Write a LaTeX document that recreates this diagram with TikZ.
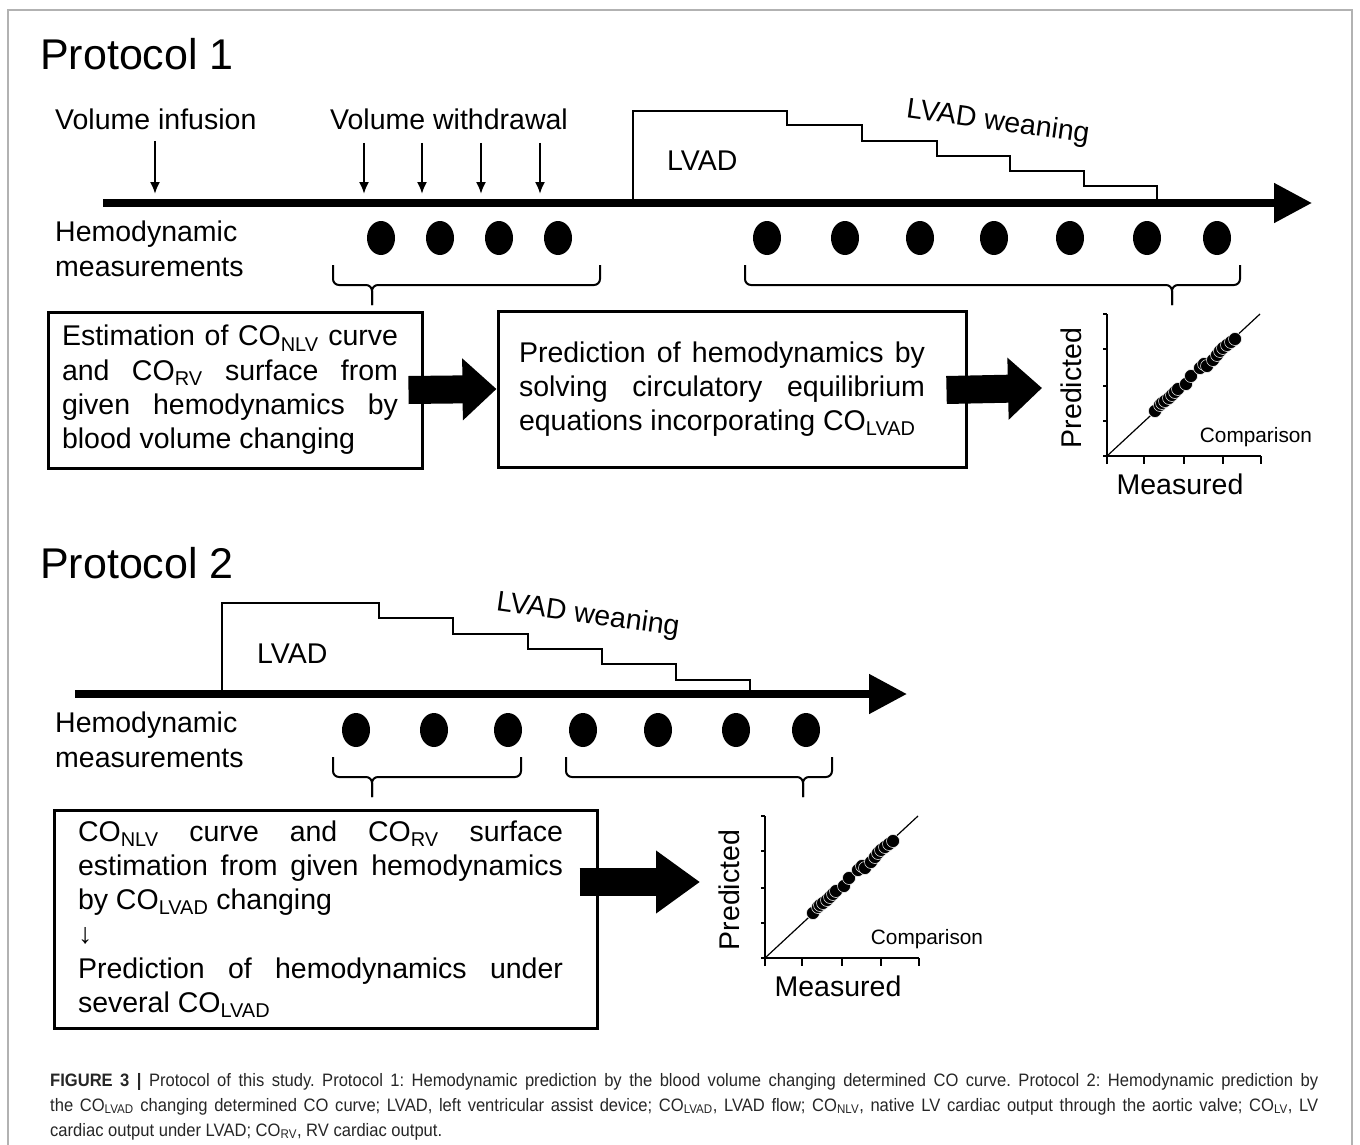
\documentclass[tikz,border=0pt]{standalone}
\usepackage{fontspec}
\setmainfont{Liberation Sans}
\newfontfamily\capfont[FakeStretch=0.92]{Liberation Sans}
\usetikzlibrary{arrows.meta}

\begin{document}
\begin{tikzpicture}[x=1pt,y=-1pt,
    txt/.style={inner sep=0pt,font=\fontsize{28.5}{34.5}\selectfont},
    title/.style={inner sep=0pt,anchor=base west,font=\fontsize{43}{50}\selectfont},
    box/.style={draw,line width=3pt,minimum height=156pt,inner ysep=0pt,font=\fontsize{28.5}{34.3}\selectfont},
    timeline/.style={line width=8pt,-{Triangle[length=38pt,width=38pt]}},
    pump/.style={line width=2.5pt},
    volarrow/.style={line width=2pt,-{Latex[length=12pt,width=10pt]}},
    bigarrow/.style={line width=28pt,-{Triangle[length=34pt,width=60pt]}},
    brace/.style={line width=2pt,rounded corners=6pt},
    axis/.style={line width=1.5pt},
    caption/.style={inner sep=0pt,anchor=base west,text=black!85,font=\capfont\fontsize{18}{25}\selectfont\frenchspacing}]
  \useasboundingbox (0,0) rectangle (1360,1145);
  \draw[gray!60,line width=1.5pt] (8,1145) -- (8,10) -- (1352,10) -- (1352,1145);

  % Protocol 1
  \node[title] (p1) at (40,70) {Protocol 1};
  \node[txt,anchor=base west] (infusion) at (55,130) {Volume infusion};
  \node[txt,anchor=base west] (withdrawal) at (330,130) {Volume withdrawal};
  \draw[volarrow] (155,141) -- (155,194);
  \foreach \x in {364,422,481,540}
    \draw[volarrow] (\x,143) -- (\x,194);
  \draw[timeline] (103,203) -- (1312,203);
  \draw[pump] (633,203) |- (787,111) |- (862,125) |- (937,141) |- (1010,156) |- (1084,171) |- (1157,186) -- (1157,203);
  \node[txt,anchor=base west] (lvad1) at (667,170) {LVAD};
  \node[txt,rotate=-8] (wean1) at (998,123) {LVAD weaning};
  \node[txt,anchor=base west,align=left] (hemo1) at (55,276) {Hemodynamic\\measurements};
  \foreach \x in {381,440,499,558,767,845,920,994,1070,1147,1217}
    \fill (\x,238) ellipse [x radius=14pt,y radius=17pt];

  % Protocol 2
  \node[title] (p2) at (40,578) {Protocol 2};
  \draw[timeline] (75,694) -- (907,694);
  \draw[pump] (222,694) |- (379,603) |- (453,618) |- (528,634) |- (602,649) |- (676,664) |- (750,680) -- (750,694);
  \node[txt,anchor=base west] (lvad2) at (257,663) {LVAD};
  \node[txt,rotate=-8] (wean2) at (588,616) {LVAD weaning};
  \node[txt,anchor=base west,align=left] (hemo2) at (55,767) {Hemodynamic\\measurements};
  \foreach \x in {356,434,508,583,658,736,806}
    \fill (\x,730) ellipse [x radius=14pt,y radius=17pt];

  % braces
  \foreach \l/\r/\t/\y in {333/600/372/265,745/1240/1172/265,333/521/372/757,566/832/803/757}{
    \draw[brace] (\l,\y) |- (\t,\y+20) -- (\t,\y+40);
    \draw[brace] (\r,\y) |- (\t,\y+20) -- (\t,\y+40);
  }

  % boxes
  \node[box,inner xsep=14pt] (est) at (235,390) {\parbox{336pt}{Estimation of CO\textsubscript{NLV} curve\linebreak and CO\textsubscript{RV} surface from\linebreak given hemodynamics by\linebreak blood volume changing}\rule{10pt}{0pt}};
  \node[box,inner xsep=21pt] (pred) at (732,389) {\parbox{406pt}{Prediction of hemodynamics by\linebreak solving circulatory equilibrium\linebreak equations incorporating CO\textsubscript{LVAD}}\rule{20pt}{0pt}};
  \node[box,inner xsep=24pt,minimum height=218pt] (both) at (325.5,919) {\parbox{485pt}{CO\textsubscript{NLV} curve and CO\textsubscript{RV} surface\linebreak estimation from given hemodynamics\linebreak by CO\textsubscript{LVAD} changing\\ ↓\\ Prediction of hemodynamics under\linebreak several CO\textsubscript{LVAD}}\rule{10pt}{0pt}};

  \coordinate (cmp1) at (1042,388);
  \coordinate (cmp2) at (700,882);
  \draw[bigarrow] ([xshift=-15pt]est.east) -- (pred.west);
  \draw[bigarrow] ([xshift=-21pt,yshift=-1pt]pred.east) -- (cmp1);
  \draw[bigarrow,-{Triangle[length=44pt,width=60pt]}] ([xshift=-19pt,yshift=37pt]both.east) -- (cmp2);

  % comparison plots
  \foreach \ox/\oy/\cx/\i in {1107/456/149/1,765/958/162/2}{
    \begin{scope}[shift={(\ox,\oy)}]
      \draw[axis] (0,8) -- (0,-142);
      \draw[axis] (-4,0) -- (154,0);
      \foreach \t in {37,77,116,154}
        \draw[axis] (\t,0) -- (\t,8);
      \foreach \t in {35,70,107,142}
        \draw[axis] (-4,-\t) -- (0,-\t);
      \draw[line width=1.2pt] (0,0) -- (153,-142);
      \foreach \a/\b in {48/-45,53/-51,55/-53,58/-55,62/-58,65/-61,68/-64,71/-67,79/-72,84/-80,93/-88,97/-92,100/-90,106/-96,110/-101,113/-105,116/-108,120/-111,124/-114,128/-117}
        \filldraw[fill=black,draw=white,line width=0.5pt] (\a,\b) circle (6.5pt);
      \node[txt,rotate=90] (pred\i) at (-36,-68) {Predicted};
      \node[txt,anchor=base] (meas\i) at (73,38.5) {Measured};
      \node[inner sep=0pt,anchor=base,font=\fontsize{20.8}{24}\selectfont] (comp\i) at (\cx,-13.5) {Comparison};
    \end{scope}
  }

  % caption
  \node[caption] (cap1) at (50,1086) {\makebox[1268pt][s]{\textbf{FIGURE 3 |} Protocol of this study. Protocol 1: Hemodynamic prediction by the blood volume changing determined CO curve. Protocol 2: Hemodynamic prediction by}};
  \node[caption] (cap2) at (50,1111) {\makebox[1268pt][s]{the CO\textsubscript{LVAD} changing determined CO curve; LVAD, left ventricular assist device; CO\textsubscript{LVAD}, LVAD flow; CO\textsubscript{NLV}, native LV cardiac output through the aortic valve; CO\textsubscript{LV}, LV}};
  \node[caption] (cap3) at (50,1136) {cardiac output under LVAD; CO\textsubscript{RV}, RV cardiac output.};
\end{tikzpicture}
\end{document}
